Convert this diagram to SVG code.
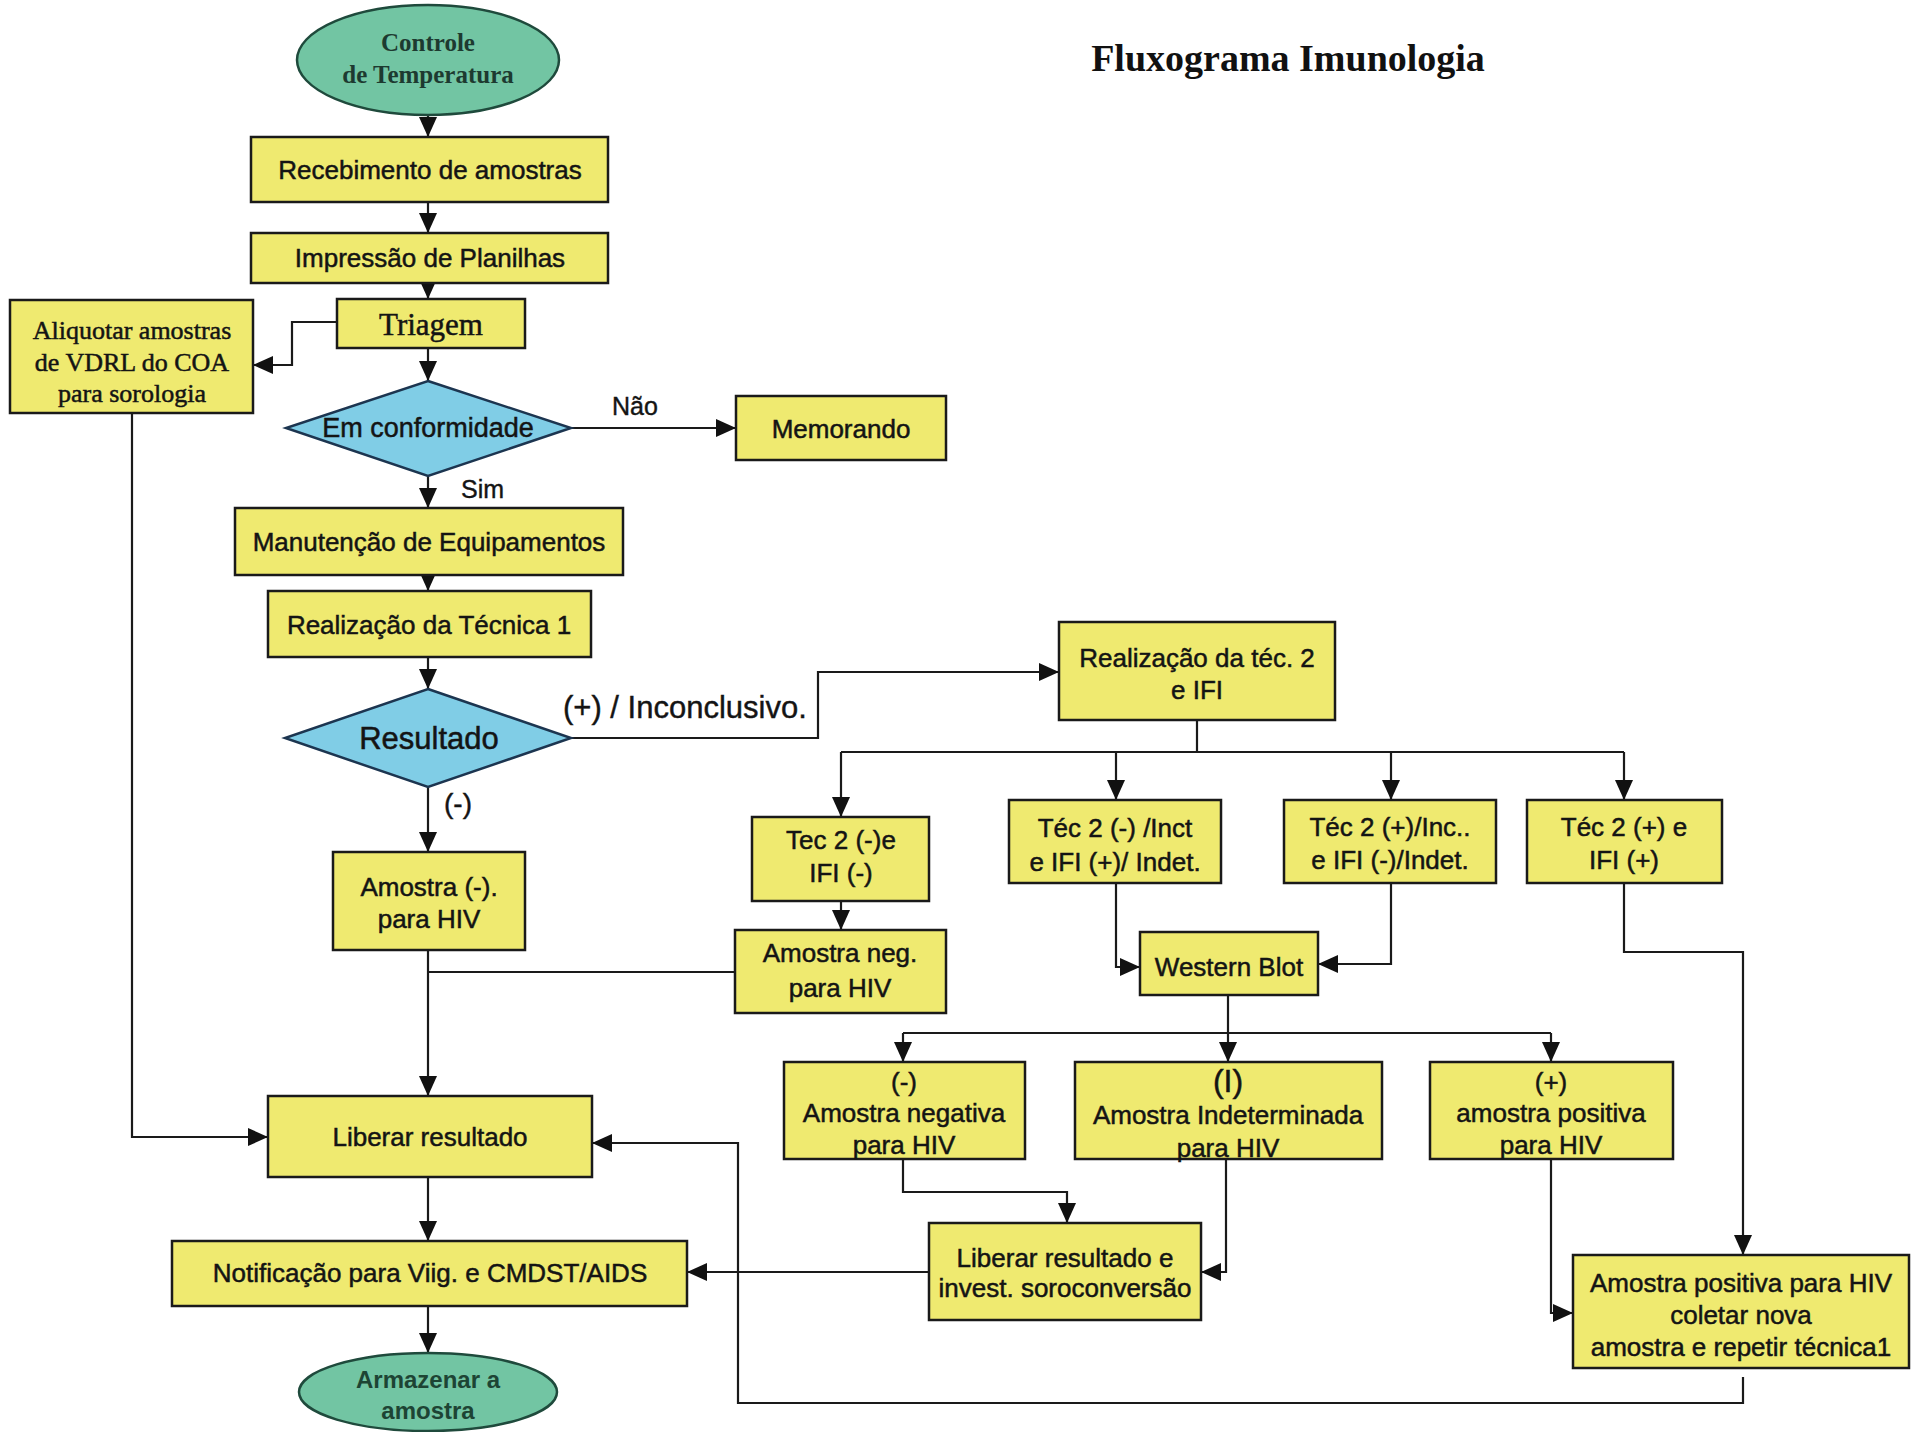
<svg xmlns="http://www.w3.org/2000/svg" width="1915" height="1432" viewBox="0 0 1915 1432">
  <defs>
    <marker id="arrow" markerUnits="userSpaceOnUse" markerWidth="21" markerHeight="18" refX="20" refY="9" orient="auto">
      <path d="M0,0 L20,9 L0,18 Z" fill="#111"/>
    </marker>
    <style>
      .box { fill: #EFEA70; stroke: #1a1a1a; stroke-width: 2.5; }
      .dia { fill: #80CDE6; stroke: #1c3550; stroke-width: 2.5; }
      .ell { fill: #72C5A3; stroke: #1f4a3c; stroke-width: 2.5; }
      .edge { fill: none; stroke: #1a1a1a; stroke-width: 2.2; }
      .arr { marker-end: url(#arrow); }
      .t { font-family: "Liberation Sans", Arial, sans-serif; font-size: 26px; fill: #141414; stroke: #141414; stroke-width: 0.5; text-anchor: middle; }
      .lbl { font-family: "Liberation Sans", Arial, sans-serif; font-size: 25px; fill: #141414; stroke: #141414; stroke-width: 0.4; }
      .ts { font-family: "Liberation Serif", "Times New Roman", serif; font-size: 26px; fill: #141414; stroke: #141414; stroke-width: 0.5; text-anchor: middle; }
      .te { font-family: "Liberation Serif", "Times New Roman", serif; font-weight: bold; font-size: 25px; fill: #1d3a30; text-anchor: middle; }
      .ta { font-family: "Liberation Sans", Arial, sans-serif; font-weight: bold; font-size: 24px; fill: #1d4434; text-anchor: middle; }
      .big { font-size: 31px; }
    </style>
  </defs>
  <rect width="1915" height="1432" fill="#ffffff"/>

  <text x="1288" y="71" font-family="Liberation Serif, Times New Roman, serif" font-weight="bold" font-size="38" fill="#111" text-anchor="middle">Fluxograma Imunologia</text>

  <!-- connectors -->
  <g id="connectors">
    <path class="edge arr" d="M428,115 V137"/>
    <path class="edge arr" d="M428,202 V233"/>
    <path class="edge arr" d="M428,283 V299"/>
    <path class="edge arr" d="M428,348 V381"/>
    <path class="edge arr" d="M337,322 H292 V365 H253"/>
    <path class="edge arr" d="M571,428 H736"/>
    <path class="edge arr" d="M428,476 V508"/>
    <path class="edge arr" d="M428,575 V591"/>
    <path class="edge arr" d="M428,657 V689"/>
    <path class="edge arr" d="M571,738 H818 V672 H1059"/>
    <path class="edge arr" d="M428,787 V852"/>
    <path class="edge arr" d="M428,950 V1096"/>
    <path class="edge" d="M735,972 H428"/>
    <path class="edge arr" d="M132,413 V1137 H268"/>
    <path class="edge arr" d="M428,1177 V1241"/>
    <path class="edge arr" d="M428,1306 V1353"/>
    <!-- branches after technique 2 -->
    <path class="edge" d="M1197,720 V752 M841,752 H1624"/>
    <path class="edge arr" d="M841,752 V817"/>
    <path class="edge arr" d="M1116,752 V800"/>
    <path class="edge arr" d="M1391,752 V800"/>
    <path class="edge arr" d="M1624,752 V800"/>
    <path class="edge arr" d="M841,901 V930"/>
    <path class="edge arr" d="M1116,883 V967 H1140"/>
    <path class="edge arr" d="M1391,883 V964 H1318"/>
    <!-- Western Blot outcomes -->
    <path class="edge" d="M1228,995 V1033 M903,1033 H1551"/>
    <path class="edge arr" d="M903,1033 V1062"/>
    <path class="edge arr" d="M1228,1033 V1062"/>
    <path class="edge arr" d="M1551,1033 V1062"/>
    <path class="edge arr" d="M903,1159 V1192 H1067 V1223"/>
    <path class="edge arr" d="M1226,1159 V1272 H1201"/>
    <path class="edge arr" d="M929,1272 H687"/>
    <path class="edge arr" d="M1551,1159 V1313 H1573"/>
    <path class="edge arr" d="M1624,883 V952 H1743 V1255"/>
    <path class="edge arr" d="M1743,1377 V1403 H738 V1143 H592"/>
  </g>

  <!-- edge labels -->
  <g id="edge-labels">
    <text class="lbl" x="612" y="415">Não</text>
    <text class="lbl" x="461" y="498">Sim</text>
    <text class="lbl big" x="563" y="718">(+) / Inconclusivo.</text>
    <text class="lbl" x="444" y="813" style="font-size:28px">(-)</text>
  </g>

  <g id="controle">
    <ellipse class="ell" cx="428" cy="60" rx="131" ry="55"/>
    <text class="te" x="428" y="51">Controle</text>
    <text class="te" x="428" y="83">de Temperatura</text>
  </g>
  <g id="recebimento">
    <rect class="box" x="251" y="137" width="357" height="65"/>
    <text class="t" x="430" y="179">Recebimento de amostras</text>
  </g>
  <g id="impressao">
    <rect class="box" x="251" y="233" width="357" height="50"/>
    <text class="t" x="430" y="267">Impressão de Planilhas</text>
  </g>
  <g id="triagem">
    <rect class="box" x="337" y="299" width="188" height="49"/>
    <text class="ts" x="431" y="335" style="font-size:31px">Triagem</text>
  </g>
  <g id="aliquotar">
    <rect class="box" x="10" y="300" width="243" height="113"/>
    <text class="ts" x="132" y="339">Aliquotar amostras</text>
    <text class="ts" x="132" y="371">de VDRL do COA</text>
    <text class="ts" x="132" y="402">para sorologia</text>
  </g>
  <g id="conformidade">
    <polygon class="dia" points="428,381 571,428 428,476 286,428"/>
    <text class="t" x="428" y="437" style="font-size:27px">Em conformidade</text>
  </g>
  <g id="memorando">
    <rect class="box" x="736" y="396" width="210" height="64"/>
    <text class="t" x="841" y="438">Memorando</text>
  </g>
  <g id="manutencao">
    <rect class="box" x="235" y="508" width="388" height="67"/>
    <text class="t" x="429" y="551">Manutenção de Equipamentos</text>
  </g>
  <g id="tecnica1">
    <rect class="box" x="268" y="591" width="323" height="66"/>
    <text class="t" x="429" y="634">Realização da Técnica 1</text>
  </g>
  <g id="resultado">
    <polygon class="dia" points="428,689 571,738 428,787 285,738"/>
    <text class="t big" x="429" y="749">Resultado</text>
  </g>
  <g id="amostra-neg-1">
    <rect class="box" x="333" y="852" width="192" height="98"/>
    <text class="t" x="429" y="896">Amostra (-).</text>
    <text class="t" x="429" y="928">para HIV</text>
  </g>
  <g id="liberar">
    <rect class="box" x="268" y="1096" width="324" height="81"/>
    <text class="t" x="430" y="1146">Liberar resultado</text>
  </g>
  <g id="notificacao">
    <rect class="box" x="172" y="1241" width="515" height="65"/>
    <text class="t" x="430" y="1282">Notificação para Viig. e CMDST/AIDS</text>
  </g>
  <g id="armazenar">
    <ellipse class="ell" cx="428" cy="1392" rx="129" ry="39"/>
    <text class="ta" x="428" y="1388">Armazenar a</text>
    <text class="ta" x="428" y="1419">amostra</text>
  </g>
  <g id="tecnica2">
    <rect class="box" x="1059" y="622" width="276" height="98"/>
    <text class="t" x="1197" y="667">Realização da téc. 2</text>
    <text class="t" x="1197" y="699">e IFI</text>
  </g>
  <g id="tec2-neg">
    <rect class="box" x="752" y="817" width="177" height="84"/>
    <text class="t" x="841" y="849">Tec 2 (-)e</text>
    <text class="t" x="841" y="882">IFI (-)</text>
  </g>
  <g id="tec2-neg-ifi-pos">
    <rect class="box" x="1009" y="800" width="212" height="83"/>
    <text class="t" x="1115" y="837">Téc 2 (-) /Inct</text>
    <text class="t" x="1115" y="871">e IFI (+)/ Indet.</text>
  </g>
  <g id="tec2-pos-ifi-neg">
    <rect class="box" x="1284" y="800" width="212" height="83"/>
    <text class="t" x="1390" y="836">Téc 2 (+)/Inc..</text>
    <text class="t" x="1390" y="869">e IFI (-)/Indet.</text>
  </g>
  <g id="tec2-pos">
    <rect class="box" x="1527" y="800" width="195" height="83"/>
    <text class="t" x="1624" y="836">Téc 2 (+) e</text>
    <text class="t" x="1624" y="869">IFI (+)</text>
  </g>
  <g id="amostra-neg-2">
    <rect class="box" x="735" y="930" width="211" height="83"/>
    <text class="t" x="840" y="962">Amostra neg.</text>
    <text class="t" x="840" y="997">para HIV</text>
  </g>
  <g id="western-blot">
    <rect class="box" x="1140" y="932" width="178" height="63"/>
    <text class="t" x="1229" y="976">Western Blot</text>
  </g>
  <g id="wb-negativa">
    <rect class="box" x="784" y="1062" width="241" height="97"/>
    <text class="t" x="904" y="1091">(-)</text>
    <text class="t" x="904" y="1122">Amostra negativa</text>
    <text class="t" x="904" y="1154">para HIV</text>
  </g>
  <g id="wb-indeterminada">
    <rect class="box" x="1075" y="1062" width="307" height="97"/>
    <text class="t" x="1228" y="1092" style="font-size:32px">(I)</text>
    <text class="t" x="1228" y="1124">Amostra Indeterminada</text>
    <text class="t" x="1228" y="1157">para HIV</text>
  </g>
  <g id="wb-positiva">
    <rect class="box" x="1430" y="1062" width="243" height="97"/>
    <text class="t" x="1551" y="1091">(+)</text>
    <text class="t" x="1551" y="1122">amostra positiva</text>
    <text class="t" x="1551" y="1154">para HIV</text>
  </g>
  <g id="liberar-invest">
    <rect class="box" x="929" y="1223" width="272" height="97"/>
    <text class="t" x="1065" y="1267">Liberar resultado e</text>
    <text class="t" x="1065" y="1297">invest. soroconversão</text>
  </g>
  <g id="amostra-positiva">
    <rect class="box" x="1573" y="1255" width="336" height="113"/>
    <text class="t" x="1741" y="1292">Amostra positiva para HIV</text>
    <text class="t" x="1741" y="1324">coletar nova</text>
    <text class="t" x="1741" y="1356">amostra e repetir técnica1</text>
  </g>
</svg>
